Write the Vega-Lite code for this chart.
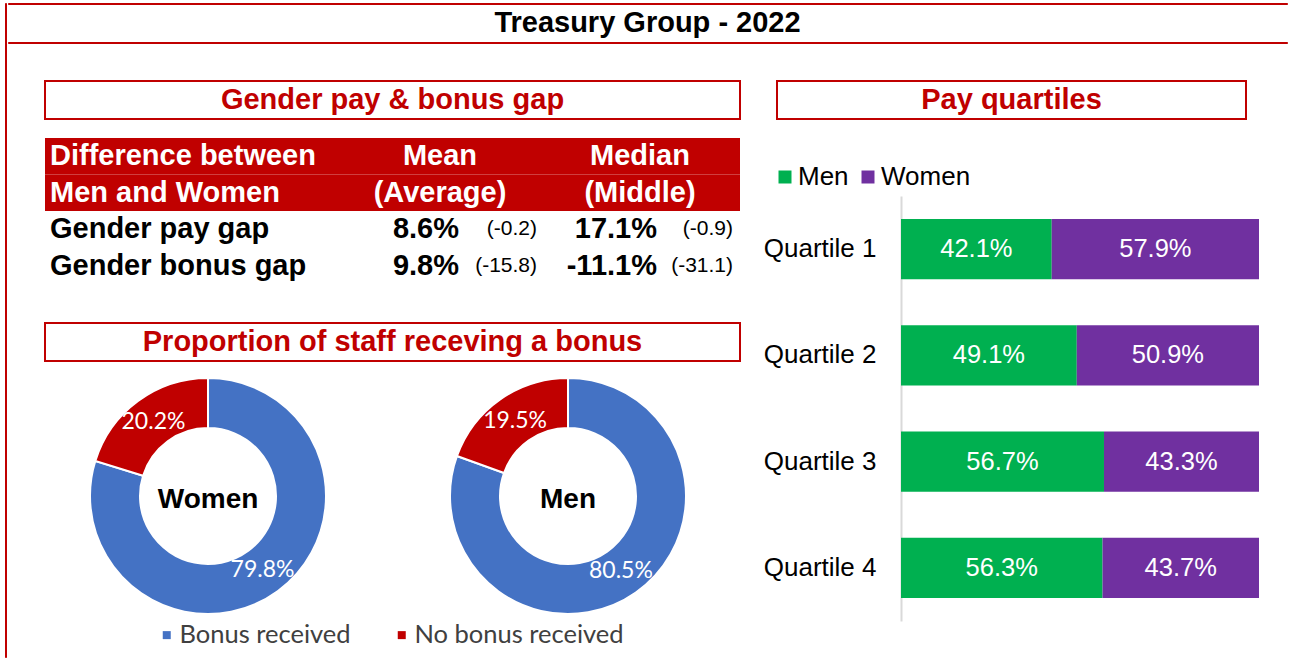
{
  "$schema": "https://vega.github.io/schema/vega-lite/v6.json",
  "padding": {"left": 4, "top": 2, "right": 0, "bottom": 0},
  "config": {
    "view": {"stroke": null},
    "font": "Liberation Sans"
  },
  "datasets": {
    "none": [],
    "titles": [
      {"id": "main", "title": "Treasury Group - 2022"},
      {"id": "gap", "title": "Gender pay & bonus gap"},
      {"id": "bonus", "title": "Proportion of staff receving a bonus"},
      {"id": "quartiles", "title": "Pay quartiles"}
    ],
    "tableHeader": [
      {"row": "h1", "label": "Difference between", "mean": "Mean", "median": "Median"},
      {"row": "h2", "label": "Men and Women", "mean": "(Average)", "median": "(Middle)"}
    ],
    "gaps": [
      {"row": "r1", "label": "Gender pay gap", "mean": "8.6%", "meanChange": "(-0.2)", "median": "17.1%", "medianChange": "(-0.9)"},
      {"row": "r2", "label": "Gender bonus gap", "mean": "9.8%", "meanChange": "(-15.8)", "median": "-11.1%", "medianChange": "(-31.1)"}
    ],
    "bonus": [
      {"group": "Women", "status": "Bonus received", "share": 0.798},
      {"group": "Women", "status": "No bonus received", "share": 0.202},
      {"group": "Men", "status": "Bonus received", "share": 0.805},
      {"group": "Men", "status": "No bonus received", "share": 0.195}
    ],
    "quartiles": [
      {"quartile": "Quartile 1", "gender": "Men", "share": 0.421},
      {"quartile": "Quartile 1", "gender": "Women", "share": 0.579},
      {"quartile": "Quartile 2", "gender": "Men", "share": 0.491},
      {"quartile": "Quartile 2", "gender": "Women", "share": 0.509},
      {"quartile": "Quartile 3", "gender": "Men", "share": 0.567},
      {"quartile": "Quartile 3", "gender": "Women", "share": 0.433},
      {"quartile": "Quartile 4", "gender": "Men", "share": 0.563},
      {"quartile": "Quartile 4", "gender": "Women", "share": 0.437}
    ]
  },
  "spacing": 0,
  "hconcat": [
    {
      "width": 1, "height": 654,
      "view": {"stroke": "#C00000", "strokeWidth": 1, "fill": "#C00000"},
      "data": {"name": "none"},
      "mark": "text",
      "encoding": {"text": {"value": ""}}
    },
    {
      "spacing": 0,
      "vconcat": [
        {
          "width": 1279, "height": 1,
          "view": {"stroke": "#C00000", "strokeWidth": 1, "fill": "#C00000"},
          "data": {"name": "none"},
          "mark": "text",
          "encoding": {"text": {"value": ""}}
        },
        {
          "width": 1279, "height": 36,
          "data": {"name": "titles"},
          "transform": [{"filter": "datum.id === 'main'"}],
          "mark": {"type": "text", "fontSize": 29, "fontWeight": "bold", "color": "black"},
          "encoding": {"text": {"field": "title"}}
        },
        {
          "spacing": 36,
          "vconcat": [
            {
              "width": 1279, "height": 1,
              "view": {"stroke": "#C00000", "strokeWidth": 1, "fill": "#C00000"},
              "data": {"name": "none"},
              "mark": "text",
              "encoding": {"text": {"value": ""}}
            },
            {
              "spacing": 12,
              "vconcat": [
                {
                  "spacing": 35,
                  "hconcat": [
                    {
                      "width": 1, "height": 1,
                      "view": {"fill": "white"},
                      "data": {"name": "none"},
                      "mark": "text",
                      "encoding": {"text": {"value": ""}}
                    },
                    {
                      "spacing": 22,
                      "hconcat": [
                        {
                          "spacing": 38,
                          "vconcat": [
                            {
                              "spacing": 18,
                              "vconcat": [
                                {
                                  "width": 695, "height": 38,
                                  "view": {"stroke": "#C00000", "strokeWidth": 2},
                                  "data": {"name": "titles"},
                                  "transform": [{"filter": "datum.id === 'gap'"}],
                                  "mark": {"type": "text", "fontSize": 29, "fontWeight": "bold", "color": "#C00000"},
                                  "encoding": {"text": {"field": "title"}}
                                },
                                {
                                  "spacing": 0,
                                  "hconcat": [
                                    {
                                      "width": 295, "height": 146,
                                      "layer": [
                                        {
                                          "data": {"name": "tableHeader"},
                                          "mark": {"type": "rect", "color": "#C00000"},
                                          "encoding": {
                                            "x": {"datum": 0, "type": "quantitative", "scale": {"domain": [0, 1]}, "axis": null},
                                            "x2": {"datum": 1},
                                            "y": {"field": "row", "type": "nominal", "axis": null, "scale": {"type": "band", "domain": ["h1", "h2", "r1", "r2"], "paddingInner": 0, "paddingOuter": 0}}
                                          }
                                        },
                                        {
                                          "data": {"name": "tableHeader"},
                                          "mark": {"type": "text", "align": "left", "dx": 5, "fontSize": 29, "fontWeight": "bold", "color": "white"},
                                          "encoding": {
                                            "x": {"datum": 0, "type": "quantitative"},
                                            "y": {"field": "row", "type": "nominal"},
                                            "text": {"field": "label"}
                                          }
                                        },
                                        {
                                          "data": {"name": "gaps"},
                                          "mark": {"type": "text", "align": "left", "dx": 5, "fontSize": 29, "fontWeight": "bold", "color": "black"},
                                          "encoding": {
                                            "x": {"datum": 0, "type": "quantitative"},
                                            "y": {"field": "row", "type": "nominal"},
                                            "text": {"field": "label"}
                                          }
                                        }
                                      ]
                                    },
                                    {
                                      "width": 200, "height": 146,
                                      "layer": [
                                        {
                                          "data": {"name": "tableHeader"},
                                          "mark": {"type": "rect", "color": "#C00000"},
                                          "encoding": {
                                            "x": {"datum": 0, "type": "quantitative", "scale": {"domain": [0, 1]}, "axis": null},
                                            "x2": {"datum": 1},
                                            "y": {"field": "row", "type": "nominal", "axis": null, "scale": {"type": "band", "domain": ["h1", "h2", "r1", "r2"], "paddingInner": 0, "paddingOuter": 0}}
                                          }
                                        },
                                        {
                                          "data": {"name": "tableHeader"},
                                          "mark": {"type": "text", "fontSize": 29, "fontWeight": "bold", "color": "white"},
                                          "encoding": {
                                            "y": {"field": "row", "type": "nominal"},
                                            "text": {"field": "mean"}
                                          }
                                        },
                                        {
                                          "data": {"name": "gaps"},
                                          "mark": {"type": "text", "align": "right", "dx": 19, "fontSize": 29, "fontWeight": "bold", "color": "black"},
                                          "encoding": {
                                            "y": {"field": "row", "type": "nominal"},
                                            "text": {"field": "mean"}
                                          }
                                        },
                                        {
                                          "data": {"name": "gaps"},
                                          "mark": {"type": "text", "align": "right", "dx": 97, "fontSize": 21, "color": "black"},
                                          "encoding": {
                                            "y": {"field": "row", "type": "nominal"},
                                            "text": {"field": "meanChange"}
                                          }
                                        }
                                      ]
                                    },
                                    {
                                      "width": 200, "height": 146,
                                      "layer": [
                                        {
                                          "data": {"name": "tableHeader"},
                                          "mark": {"type": "rect", "color": "#C00000"},
                                          "encoding": {
                                            "x": {"datum": 0, "type": "quantitative", "scale": {"domain": [0, 1]}, "axis": null},
                                            "x2": {"datum": 1},
                                            "y": {"field": "row", "type": "nominal", "axis": null, "scale": {"type": "band", "domain": ["h1", "h2", "r1", "r2"], "paddingInner": 0, "paddingOuter": 0}}
                                          }
                                        },
                                        {
                                          "data": {"name": "tableHeader"},
                                          "mark": {"type": "text", "fontSize": 29, "fontWeight": "bold", "color": "white"},
                                          "encoding": {
                                            "y": {"field": "row", "type": "nominal"},
                                            "text": {"field": "median"}
                                          }
                                        },
                                        {
                                          "data": {"name": "gaps"},
                                          "mark": {"type": "text", "align": "right", "dx": 17, "fontSize": 29, "fontWeight": "bold", "color": "black"},
                                          "encoding": {
                                            "y": {"field": "row", "type": "nominal"},
                                            "text": {"field": "median"}
                                          }
                                        },
                                        {
                                          "data": {"name": "gaps"},
                                          "mark": {"type": "text", "align": "right", "dx": 93, "fontSize": 21, "color": "black"},
                                          "encoding": {
                                            "y": {"field": "row", "type": "nominal"},
                                            "text": {"field": "medianChange"}
                                          }
                                        }
                                      ]
                                    }
                                  ]
                                }
                              ]
                            },
                            {
                              "spacing": 0,
                              "resolve": {"scale": {"color": "independent"}, "legend": {"color": "independent"}},
                              "vconcat": [
                                {
                                  "width": 695, "height": 38,
                                  "view": {"stroke": "#C00000", "strokeWidth": 2},
                                  "data": {"name": "titles"},
                                  "transform": [{"filter": "datum.id === 'bonus'"}],
                                  "mark": {"type": "text", "fontSize": 29, "fontWeight": "bold", "color": "#C00000"},
                                  "encoding": {"text": {"field": "title"}}
                                },
                                {
                                  "data": {"name": "bonus"},
                                  "spacing": {"column": 34},
                                  "facet": {"column": {"field": "group", "type": "nominal", "sort": ["Women", "Men"], "header": null}},
                                  "spec": {
                                    "width": 326, "height": 268,
                                    "layer": [
                                      {
                                        "mark": {"type": "arc", "outerRadius": 118, "innerRadius": 68, "stroke": "white", "strokeWidth": 2},
                                        "encoding": {
                                          "theta": {"field": "share", "type": "quantitative", "stack": true},
                                          "color": {
                                            "field": "status", "type": "nominal",
                                            "scale": {"domain": ["Bonus received", "No bonus received"], "range": ["#4472C4", "#C00000"]},
                                            "legend": {
                                              "orient": "none", "legendX": 109, "legendY": 260, "direction": "horizontal", "title": null,
                                              "padding": 0, "symbolType": "square", "symbolSize": 64, "symbolStrokeWidth": 0,
                                              "labelFont": "Lato", "labelFontSize": 25.5, "labelColor": "#404040", "labelLimit": 400,
                                              "columnPadding": 38, "labelOffset": 0
                                            }
                                          },
                                          "order": {"field": "status", "type": "ordinal", "sort": "ascending"}
                                        }
                                      },
                                      {
                                        "mark": {"type": "text", "radius": 92, "font": "Lato", "fontSize": 23, "color": "white"},
                                        "encoding": {
                                          "theta": {"field": "share", "type": "quantitative", "stack": true},
                                          "detail": {"field": "status"},
                                          "order": {"field": "status", "type": "ordinal", "sort": "ascending"},
                                          "text": {"field": "share", "type": "quantitative", "format": ".1%"}
                                        }
                                      },
                                      {
                                        "transform": [{"filter": "datum.status === 'Bonus received'"}],
                                        "mark": {"type": "text", "fontSize": 28, "fontWeight": "bold", "color": "black", "dy": 4},
                                        "encoding": {"text": {"field": "group"}}
                                      }
                                    ]
                                  }
                                }
                              ]
                            }
                          ]
                        },
                        {
                          "spacing": 44,
                          "resolve": {"scale": {"color": "independent"}, "legend": {"color": "independent"}},
                          "vconcat": [
                            {
                              "width": 469, "height": 38,
                              "view": {"stroke": "#C00000", "strokeWidth": 2},
                              "data": {"name": "titles"},
                              "transform": [{"filter": "datum.id === 'quartiles'"}],
                              "mark": {"type": "text", "fontSize": 29, "fontWeight": "bold", "color": "#C00000"},
                              "encoding": {"text": {"field": "title"}}
                            },
                            {
                              "spacing": -15,
                              "resolve": {"scale": {"color": "independent"}, "legend": {"color": "independent"}},
                              "hconcat": [
                                {
                                  "width": 1, "height": 1,
                                  "view": {"fill": "white"},
                                  "data": {"name": "none"},
                                  "mark": "text",
                                  "encoding": {"text": {"value": ""}}
                                },
                                {
                                  "width": 358, "height": 425,
                                  "data": {"name": "quartiles"},
                                  "encoding": {
                                    "y": {
                                      "field": "quartile", "type": "nominal",
                                      "scale": {"type": "band", "paddingInner": 0.435, "paddingOuter": 0.2175},
                                      "axis": {
                                        "title": null, "ticks": false, "tickSize": 0, "domain": true,
                                        "domainColor": "#D9D9D9", "domainWidth": 2,
                                        "labelFontSize": 26, "labelColor": "black", "labelPadding": 25
                                      }
                                    }
                                  },
                                  "layer": [
                                    {
                                      "mark": {"type": "bar"},
                                      "encoding": {
                                        "x": {"field": "share", "type": "quantitative", "stack": "zero", "scale": {"domain": [0, 1], "nice": false}, "axis": null},
                                        "color": {
                                          "field": "gender", "type": "nominal",
                                          "scale": {"domain": ["Men", "Women"], "range": ["#00B050", "#7030A0"]},
                                          "legend": {
                                            "orient": "none", "legendX": -129, "legendY": -32, "direction": "horizontal", "title": null,
                                            "padding": 0, "symbolType": "square", "symbolSize": 169, "symbolStrokeWidth": 0,
                                            "labelFontSize": 26, "labelColor": "black",
                                            "columnPadding": 6, "labelOffset": 0
                                          }
                                        },
                                        "order": {"field": "gender", "type": "ordinal", "sort": "ascending"}
                                      }
                                    },
                                    {
                                      "mark": {"type": "text", "color": "white", "fontSize": 25.5},
                                      "encoding": {
                                        "x": {"field": "share", "type": "quantitative", "stack": "zero", "bandPosition": 0.5},
                                        "detail": {"field": "gender"},
                                        "order": {"field": "gender", "type": "ordinal", "sort": "ascending"},
                                        "text": {"field": "share", "type": "quantitative", "format": ".1%"}
                                      }
                                    }
                                  ]
                                }
                              ]
                            }
                          ]
                        }
                      ]
                    }
                  ]
                },
                {
                  "width": 1279, "height": 1,
                  "view": {"stroke": "#C00000", "strokeWidth": 1, "fill": "#C00000"},
                  "data": {"name": "none"},
                  "mark": "text",
                  "encoding": {"text": {"value": ""}}
                }
              ]
            }
          ]
        }
      ]
    }
  ]
}
